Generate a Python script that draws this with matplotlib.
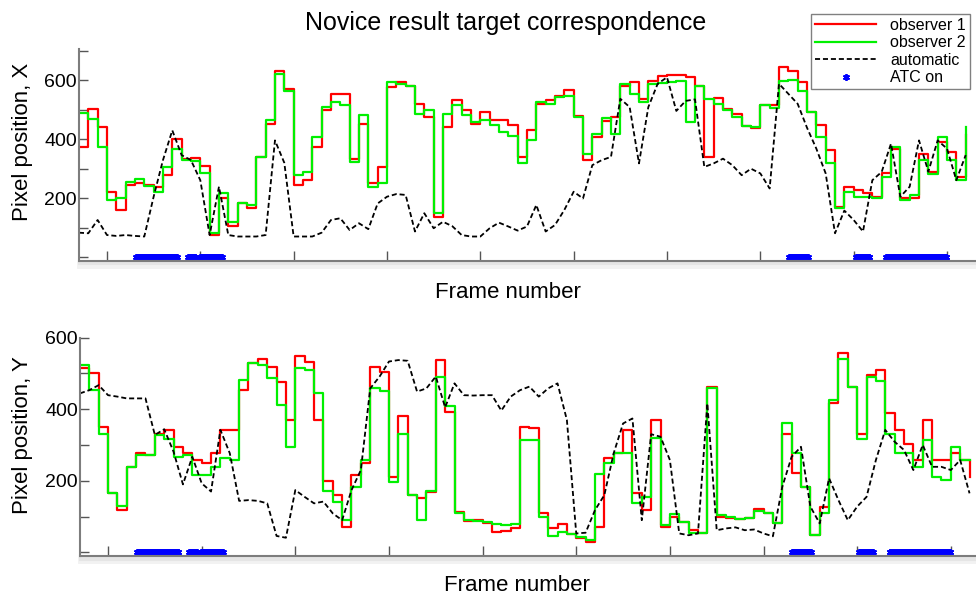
import numpy as np
import matplotlib
matplotlib.use("Agg")
import matplotlib.pyplot as plt
import matplotlib.patheffects as pe

plt.rcParams['font.family'] = ['Liberation Sans', 'DejaVu Sans']

# sampled every 50 frames
frames = np.arange(350, 5101, 50)

# X position
x_obs1 = [374, 503, 440, 220, 160, 245, 250, 245, 238, 280,
          400, 334, 335, 310, 75, 200, 104, 182, 166, 340,
          453, 633, 570, 245, 261, 374, 498, 554, 554, 334,
          453, 250, 306, 577, 594, 582, 520, 475, 137, 441,
          532, 498, 453, 492, 464, 464, 447, 340, 430, 520,
          532, 545, 568, 480, 329, 408, 461, 475, 582, 593,
          537, 599, 613, 619, 618, 610, 582, 340, 540, 503,
          486, 444, 439, 515, 515, 646, 631, 593, 494, 447,
          363, 171, 239, 227, 216, 203, 284, 368, 199, 199,
          351, 290, 391, 357, 272, 413]
x_obs2 = [490, 470, 374, 194, 199, 256, 264, 241, 222, 306,
          368, 329, 327, 284, 81, 216, 120, 185, 177, 340,
          464, 622, 565, 280, 289, 408, 509, 526, 515, 323,
          481, 239, 250, 594, 588, 582, 486, 498, 149, 486,
          515, 481, 458, 464, 447, 425, 410, 318, 396, 526,
          520, 543, 547, 475, 351, 419, 473, 419, 588, 554,
          526, 588, 590, 593, 599, 458, 582, 537, 520, 500,
          477, 444, 441, 515, 507, 599, 601, 565, 492, 408,
          318, 166, 221, 205, 205, 201, 273, 374, 194, 211,
          329, 282, 408, 329, 261, 441]
x_auto = [83, 81, 126, 75, 72, 75, 72, 70, 205, 329,
          430, 346, 329, 261, 75, 239, 75, 70, 70, 70,
          75, 396, 320, 70, 70, 70, 83, 126, 132, 92,
          115, 95, 182, 205, 214, 211, 87, 149, 98, 120,
          105, 75, 70, 70, 98, 117, 104, 90, 104, 177,
          87, 109, 160, 222, 199, 312, 329, 340, 537, 509,
          318, 509, 588, 610, 496, 530, 535, 306, 318, 334,
          312, 278, 300, 284, 233, 588, 554, 520, 439, 368,
          284, 81, 158, 126, 87, 261, 289, 385, 205, 239,
          396, 290, 396, 368, 261, 346]

# Y position
y_obs1 = [515, 500, 351, 165, 118, 239, 277, 272, 332, 342,
          295, 277, 258, 249, 277, 342, 342, 453, 528, 539,
          519, 477, 370, 547, 533, 370, 200, 160, 72, 216,
          249, 519, 505, 211, 380, 160, 151, 170, 537, 393,
          114, 88, 90, 81, 58, 61, 67, 351, 346, 109,
          67, 79, 51, 39, 30, 72, 265, 277, 342, 165,
          118, 370, 72, 100, 86, 62, 55, 463, 100, 95,
          92, 95, 120, 109, 81, 330, 221, 183, 48, 128,
          416, 556, 463, 332, 495, 509, 388, 342, 304, 258,
          370, 258, 258, 277, 258, 211]
y_obs2 = [523, 453, 332, 165, 129, 239, 272, 272, 328, 318,
          267, 272, 215, 216, 239, 263, 258, 481, 528, 523,
          486, 412, 295, 514, 509, 444, 172, 140, 90, 183,
          258, 458, 452, 197, 330, 161, 90, 172, 489, 409,
          111, 90, 88, 86, 79, 76, 79, 314, 314, 100,
          46, 58, 51, 44, 34, 220, 250, 277, 277, 139,
          155, 320, 76, 107, 86, 53, 53, 458, 104, 100,
          92, 95, 116, 109, 81, 360, 277, 183, 48, 109,
          425, 539, 463, 318, 491, 479, 332, 277, 277, 239,
          314, 211, 202, 295, 258, 258]
y_auto = [444, 453, 467, 439, 435, 430, 430, 430, 328, 344,
          281, 190, 267, 193, 170, 342, 277, 144, 146, 144,
          137, 46, 41, 174, 155, 137, 142, 109, 90, 174,
          230, 458, 491, 533, 537, 535, 449, 458, 491, 405,
          472, 439, 438, 439, 439, 396, 435, 453, 463, 435,
          458, 472, 370, 53, 55, 118, 160, 277, 360, 374,
          90, 330, 323, 258, 53, 48, 53, 416, 62, 67,
          70, 62, 64, 53, 45, 183, 267, 295, 128, 81,
          207, 146, 90, 128, 155, 258, 342, 309, 286, 230,
          300, 239, 239, 230, 258, 165]

# frames where ATC was switched on
atc_start = [655, 934, 998, 4153, 4512, 4673]
atc_end = [875, 977, 1116, 4255, 4587, 5000]
atc_frames = np.concatenate([np.arange(s, e + 1, 4) for s, e in zip(atc_start, atc_end)])

asterisk = (6, 2, 0)


def style_axis(ax, ymax, ylim):
    for side in ['top', 'right']:
        ax.spines[side].set_visible(False)
    for side in ['left', 'bottom']:
        ax.spines[side].set_color('#7d7d7d')
        ax.spines[side].set_linewidth(1.5)
    ax.spines['bottom'].set_path_effects([
        pe.SimpleLineShadow(offset=(1, -3), shadow_color='k', alpha=0.05, linewidth=5),
        pe.SimpleLineShadow(offset=(1, -2), shadow_color='k', alpha=0.05, linewidth=3),
        pe.Normal()])
    ax.set_xlim(350, 5160)
    ax.set_ylim(*ylim)
    ax.set_xticks(np.arange(500, 5001, 500))
    yt = np.arange(0, ymax + 1, 100)
    ax.set_yticks(yt)
    ax.set_yticklabels([str(v) if v in (200, 400, 600) else '' for v in yt])
    ax.tick_params(axis='x', direction='in', length=7, width=1, color='#555555',
                   labelbottom=False)
    ax.tick_params(axis='y', direction='in', length=6.5, width=1, color='#555555',
                   labelsize=14, pad=1.5)


def draw(ax, obs1, obs2, auto):
    ax.plot(frames, obs1, color='#ff0000', lw=1.6, drawstyle='steps-post', label='observer 1')
    ax.plot(frames, obs2, color='#00f000', lw=1.6, drawstyle='steps-post', label='observer 2')
    ax.plot(frames, auto, color='k', lw=1.3, ls=(0, (2.8, 1.6)), label='automatic')
    ax.plot(atc_frames, np.zeros(len(atc_frames)), ls='none', marker=asterisk, ms=5,
            mec='#0000ff', mew=1.3, label='ATC on')


fig = plt.figure(figsize=(9.76, 5.96), dpi=100)
ax1 = fig.add_axes([0.0809, 0.5626, 0.920, 0.3547])
ax2 = fig.add_axes([0.0819, 0.0671, 0.923, 0.3666])

draw(ax1, x_obs1, x_obs2, x_auto)
draw(ax2, y_obs1, y_obs2, y_auto)
style_axis(ax1, 700, (-12, 705))
style_axis(ax2, 600, (-10, 600))

ax1.set_xlabel('Frame number', fontsize=16)
ax1.xaxis.set_label_coords(0.478, -0.10)
ax1.set_ylabel('Pixel position, X', fontsize=16)
ax1.yaxis.set_label_coords(-0.051, 0.5615)
ax2.set_xlabel('Frame number', fontsize=16)
ax2.xaxis.set_label_coords(0.485, -0.087)
ax2.set_ylabel('Pixel position, Y', fontsize=16)
ax2.yaxis.set_label_coords(-0.052, 0.554)

fig.text(506 / 976, 1 - 30 / 596, 'Novice result target correspondence',
         ha='center', va='baseline', fontsize=18)

leg = ax1.legend(loc='upper left', bbox_to_anchor=(811 / 976, 1 - 14 / 596),
                 bbox_transform=fig.transFigure, fontsize=11.5, handlelength=3.85,
                 handletextpad=0.85, borderpad=0.25, labelspacing=0.15,
                 borderaxespad=0, fancybox=False, framealpha=1)
leg.get_frame().set_edgecolor('#808080')
leg.get_frame().set_linewidth(1)

fig.savefig('out.png', dpi=100)
